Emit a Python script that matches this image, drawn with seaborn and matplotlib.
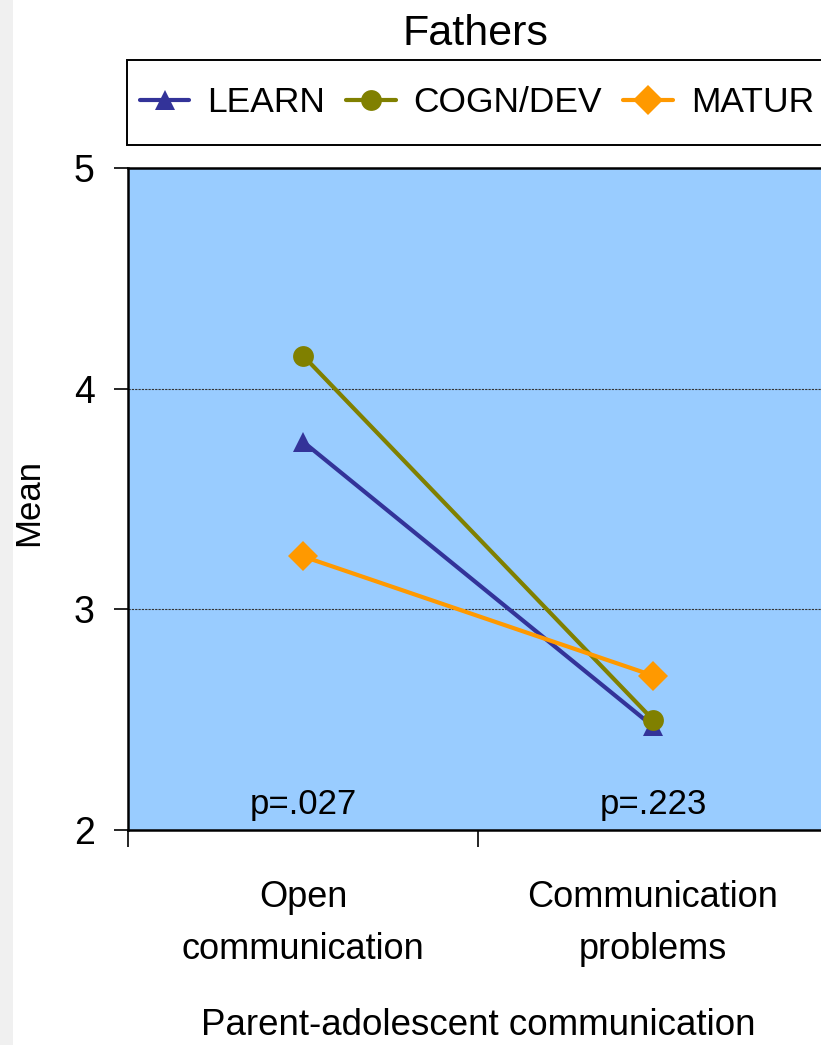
import matplotlib
matplotlib.use("Agg")
import matplotlib.pyplot as plt
import seaborn as sns
import pandas as pd
from matplotlib.ticker import FixedLocator, NullFormatter, FixedFormatter
from matplotlib.patches import Rectangle

# Data
categories = ["Open\ncommunication", "Communication\nproblems"]
series_names = ["LEARN", "COGN/DEV", "MATUR"]
learn = [3.76, 2.47]
cogn_dev = [4.15, 2.50]
matur = [3.24, 2.70]
p_values = ["p=.027", "p=.223"]
y_ticks = [2, 3, 4, 5]

colors = {"LEARN": "#333399", "COGN/DEV": "#808000", "MATUR": "#FF9900"}
markers = {"LEARN": "^", "COGN/DEV": "o", "MATUR": "D"}

rows = []
for name, vals in zip(series_names, [learn, cogn_dev, matur]):
    for i, v in enumerate(vals):
        rows.append({"pos": i, "mean": v, "group": name})
df = pd.DataFrame(rows)

sns.set_style("white")
plt.rcParams["font.family"] = ["Liberation Sans", "DejaVu Sans"]
plt.rcParams["text.color"] = "black"
plt.rcParams["axes.labelcolor"] = "black"
plt.rcParams["xtick.color"] = "black"
plt.rcParams["ytick.color"] = "black"

fig = plt.figure(figsize=(8.21, 10.45), dpi=100)

# faint grey strip along the left edge of the page
fig.patches.append(Rectangle((0, 0), 0.016, 1, transform=fig.transFigure,
                             facecolor="#f0f0f0", edgecolor="none", zorder=0))

ax = fig.add_axes([0.1559, 0.2057, 0.8526, 0.6335])
ax.set_facecolor("#99CCFF")

sns.lineplot(data=df, x="pos", y="mean", hue="group", style="group",
             hue_order=series_names, style_order=series_names,
             palette=colors, markers=markers, dashes=False,
             linewidth=3, markersize=15, markeredgewidth=0,
             ax=ax, legend=False, zorder=3)

ax.set_xlim(-0.5, 1.5)
ax.set_ylim(2, 5)

# y axis
ax.set_yticks(y_ticks)
ax.set_yticklabels([str(t) for t in y_ticks])
for y in [3, 4]:
    ax.axhline(y, color="#333333", lw=0.8, ls=(0, (2, 1)), zorder=1)

# x axis: ticks at category boundaries, labels centered
ax.xaxis.set_major_locator(FixedLocator([-0.5, 0.5, 1.5]))
ax.xaxis.set_major_formatter(NullFormatter())
ax.xaxis.set_minor_locator(FixedLocator([0, 1]))
ax.xaxis.set_minor_formatter(FixedFormatter(categories))
ax.tick_params(axis="x", which="major", direction="out", length=12, width=1.2, color="black")
ax.tick_params(axis="x", which="minor", length=0, pad=36, labelsize=26)
for lbl in ax.xaxis.get_minorticklabels():
    lbl.set_linespacing(1.62)
ax.tick_params(axis="y", which="major", direction="out", length=10, width=1.2,
               color="black", labelsize=27, pad=14)
ax.tick_params(left=True, bottom=True)

for side in ["left", "top", "bottom", "right"]:
    ax.spines[side].set_color("black")
    ax.spines[side].set_linewidth(1.8)
ax.spines["right"].set_visible(False)

ax.set_xlabel("Parent-adolescent communication", fontsize=26.5, labelpad=30)
ax.set_ylabel("Mean", fontsize=25)
ax.yaxis.set_label_coords(-0.1186, 0.495)

for i, txt in enumerate(p_values):
    ax.text(i, 2.04, txt, ha="center", va="bottom", fontsize=25)

fig.text(0.5786, 0.967, "Fathers", ha="center", va="center", fontsize=31)

# legend box, running past the right edge of the page
fig.patches.append(Rectangle((0.1547, 0.8612), 0.86, 0.0813, transform=fig.transFigure,
                             facecolor="white", edgecolor="black", linewidth=1.4,
                             zorder=1))
handles = [plt.Line2D([], [], color=colors[n], marker=markers[n], lw=3,
                      markersize=15, markeredgewidth=0) for n in series_names]
leg = fig.legend(handles, series_names, loc="center left",
                 bbox_to_anchor=(0.1547, 1 - 102.5 / 1045), bbox_transform=fig.transFigure,
                 borderaxespad=0, ncol=3, fontsize=25.5, frameon=False,
                 handlelength=1.4, handletextpad=0.5, columnspacing=0.6,
                 borderpad=0.36)
leg.set_zorder(2)

fig.savefig("out.png", dpi=100)
